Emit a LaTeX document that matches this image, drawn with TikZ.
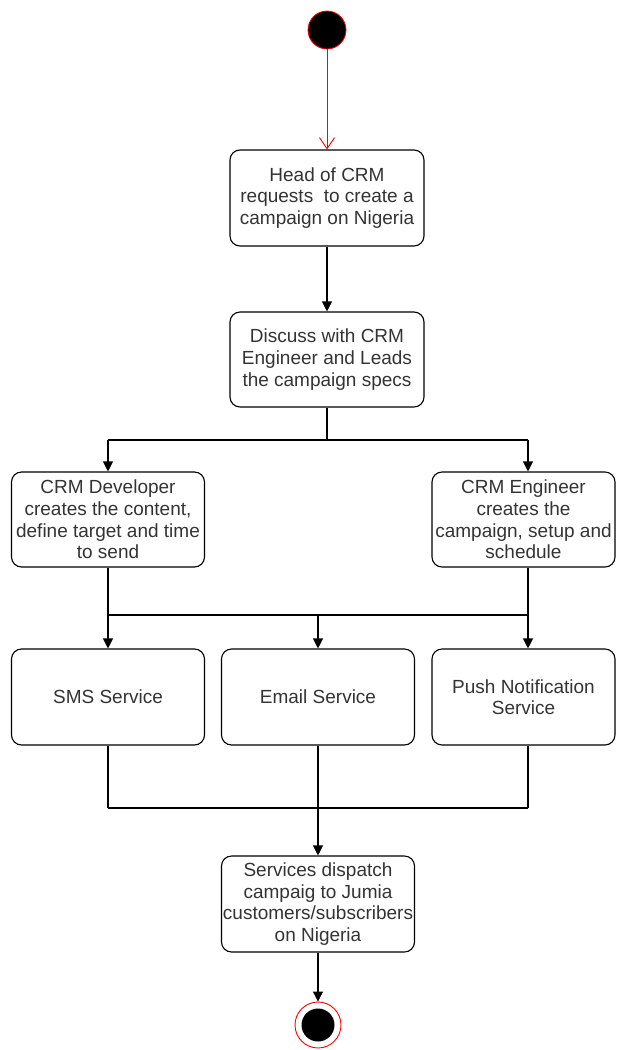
\documentclass[tikz,border=0pt]{standalone}
\usepackage{fontspec}
\setmainfont{Liberation Sans}
\usetikzlibrary{arrows.meta}
\begin{document}
\begin{tikzpicture}[x=1pt,y=-1pt,
  act/.style={draw, line width=1.1pt, rounded corners=10pt, align=center, inner sep=0pt,
    font=\fontsize{19}{21.6}\selectfont, text=black!80},
  flow/.style={line width=1.1pt, -{Triangle[length=10pt,width=10pt]}},
  seg/.style={line width=1.1pt}]
\useasboundingbox (0,0) rectangle (617,1050);
\node[circle, fill=black, draw=red, line width=0.8pt, minimum size=38pt, inner sep=0pt] (start) at (327,30) {};
\node[act, minimum width=194pt, minimum height=96pt] (b1) at (327,198) {Head of CRM\\requests\ \ to create a\\campaign on Nigeria};
\node[act, minimum width=194pt, minimum height=95pt] (b2) at (327,359.5) {Discuss with CRM\\Engineer and Leads\\the campaign specs};
\node[act, minimum width=193pt, minimum height=95pt] (dev) at (108,519.5) {CRM Developer\\creates the content,\\define target and time\\to send};
\node[act, minimum width=183pt, minimum height=95pt] (eng) at (523.5,519.5) {CRM Engineer\\creates the\\campaign, setup and\\schedule};
\node[act, minimum width=193pt, minimum height=96pt] (sms) at (108,697) {SMS Service};
\node[act, minimum width=193pt, minimum height=96pt] (email) at (318,697) {Email Service};
\node[act, minimum width=183pt, minimum height=96pt] (push) at (523.5,697) {Push Notification\\Service};
\node[act, minimum width=193pt, minimum height=96pt] (disp) at (318,904) {Services dispatch\\campaig to Jumia\\customers/subscribers\\on Nigeria};
\node[circle, draw=red, line width=0.9pt, minimum size=46pt, inner sep=0pt] (end) at (318,1025) {};
\node[circle, fill=black, minimum size=33pt, inner sep=0pt] (endin) at (318,1025) {};

\coordinate (j1) at (327,440);
\coordinate (j1l) at (108,440);
\coordinate (j1r) at (528,440);
\coordinate (j2l) at (108,615);
\coordinate (j2m) at (318,615);
\coordinate (j2r) at (528,615);
\coordinate (j3l) at (108,808);
\coordinate (j3m) at (318,808);
\coordinate (j3r) at (528,808);

\draw[red, line width=0.9pt, -{Straight Barb[length=11pt,width=15pt]}] (start) -- (b1);
\draw[flow] (b1) -- (b2);
\draw[seg] (b2.south) -- (j1);
\draw[seg] (j1l) -- (j1r);
\draw[flow] (j1l) -- (j1l |- dev.north);
\draw[flow] (j1r) -- (j1r |- eng.north);
\draw[seg] (j2l |- dev.south) -- (j2l);
\draw[seg] (j2r |- eng.south) -- (j2r);
\draw[seg] (j2l) -- (j2r);
\draw[flow] (j2l) -- (j2l |- sms.north);
\draw[flow] (j2m) -- (j2m |- email.north);
\draw[flow] (j2r) -- (j2r |- push.north);
\draw[seg] (j3l |- sms.south) -- (j3l);
\draw[seg] (j3m |- email.south) -- (j3m);
\draw[seg] (j3r |- push.south) -- (j3r);
\draw[seg] (j3l) -- (j3r);
\draw[flow] (j3m) -- (j3m |- disp.north);
\draw[flow] (disp) -- (end);
\end{tikzpicture}
\end{document}
